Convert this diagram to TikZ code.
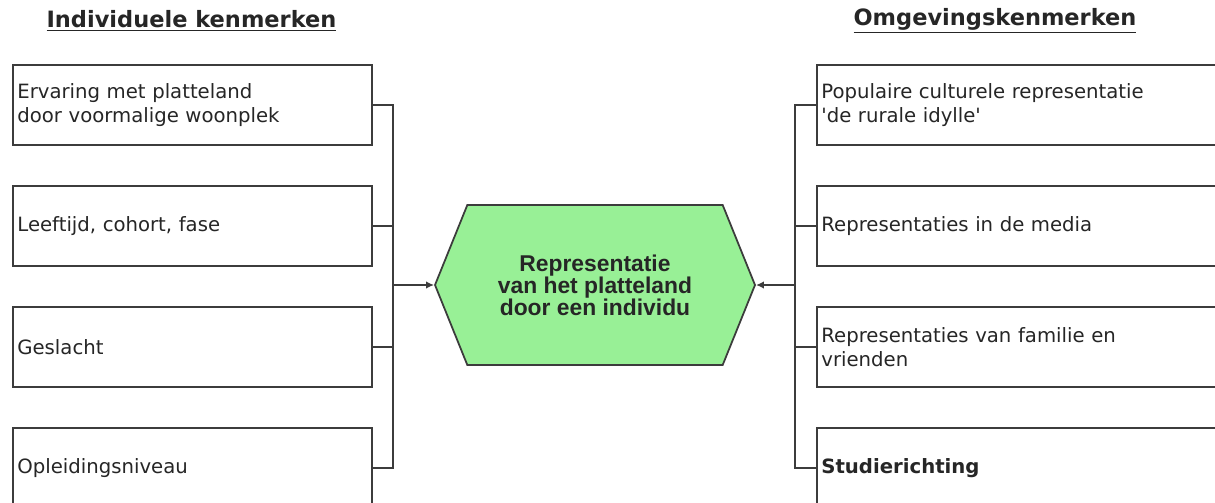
\documentclass[tikz,border=0pt]{standalone}
\usepackage{fontspec}
\setmainfont{DejaVu Sans}
\newfontfamily\hexfont{Liberation Sans}
\usepackage{tikz}
\usetikzlibrary{arrows.meta, calc, shapes.symbols, positioning}

\definecolor{hexgreen}{RGB}{152,240,150}
\definecolor{linegray}{RGB}{60,60,60}

\begin{document}
\begin{tikzpicture}[
		kenmerk/.style={draw=linegray, line width=1pt, fill=white, anchor=north west, minimum height=1.6cm, text width=7cm, inner xsep=0.09cm, align=left, font=\fontsize{11.2}{13.7}\selectfont, text=black!85},
		breed/.style={kenmerk, text width=7.9cm},
		bus/.style={draw=linegray, line width=1pt},
		pijl/.style={bus, -{Latex[length=1.6mm, width=1.5mm]}},
		kop/.style={font=\fontsize{12.8}{15}\selectfont\bfseries, text=black!85}
	]
			\useasboundingbox (0,0) rectangle (24.3,-10.04);
			\clip (0,0) rectangle (24.3,-10.04);
			
			% Draw Headings
			\node[kop] (kopl) at (3.83,-0.42) {\underline{Individuele kenmerken}};
			\node[kop] (kopr) at (19.9,-0.42) {\underline{Omgevingskenmerken}};
			
			% Draw Individual Boxes
			\node[kenmerk] (l1) at (0.24,-1.28) {Ervaring met platteland\\door voormalige woonplek};
			\node[kenmerk] (l2) at (0.24,-3.70) {Leeftijd, cohort, fase};
			\node[kenmerk] (l3) at (0.24,-6.12) {Geslacht};
			\node[kenmerk] (l4) at (0.24,-8.54) {Opleidingsniveau};
			
			% Draw Environment Boxes
			\node[breed] (r1) at (16.32,-1.28) {Populaire culturele representatie\\\textquotesingle de rurale idylle\textquotesingle};
			\node[breed] (r2) at (16.32,-3.70) {Representaties in de media};
			\node[breed] (r3) at (16.32,-6.12) {Representaties van familie en\\vrienden};
			\node[breed] (r4) at (16.32,-8.54) {\bfseries Studierichting};
			
			% Draw Central Hexagon
			\node[signal, signal to=west and east, signal pointer angle=136, draw=linegray, line width=1pt, fill=hexgreen, minimum width=6.4cm, minimum height=3.2cm, align=center, font=\hexfont\fontsize{13}{12.6}\selectfont\bfseries, text=black!85] (rep) at (11.9,-5.7) {Representatie\\van het platteland\\door een individu};
			
			% Draw Left Bus
			\coordinate (lj) at (7.86,-5.7);
			\draw[bus] (l1.east) -- ++(0.4,0) |- (l4.east);
			\draw[bus] (l2.east) -- ++(0.4,0);
			\draw[bus] (l3.east) -- ++(0.4,0);
			\draw[pijl] (lj) -- (rep.west);
			
			% Draw Right Bus
			\coordinate (rj) at (15.9,-5.7);
			\draw[bus] (r1.west) -- ++(-0.42,0) |- (r4.west);
			\draw[bus] (r2.west) -- ++(-0.42,0);
			\draw[bus] (r3.west) -- ++(-0.42,0);
			\draw[pijl] (rj) -- (rep.east);
		\end{tikzpicture}
\end{document}
